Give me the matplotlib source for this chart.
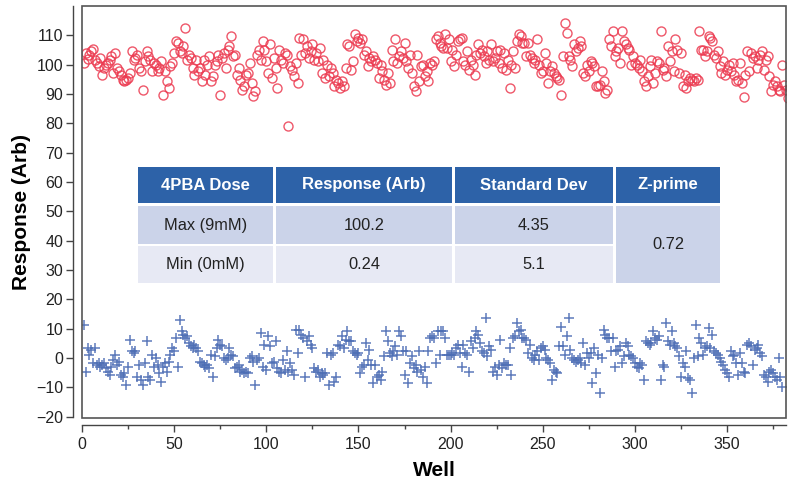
import numpy as np
import matplotlib
matplotlib.use("Agg")
import matplotlib.pyplot as plt
from matplotlib.patches import Rectangle

plt.rcParams['font.family'] = ['Liberation Sans', 'DejaVu Sans']

# -----------------------------
# Data (Max = 9mM 4PBA, Min = 0mM)
# -----------------------------
max_response = [
    100.6, 104.0, 102.0, 103.2, 104.6, 105.4, 101.7, 100.6, 99.5, 102.3, 96.6, 99.0,
    100.0, 100.6, 101.7, 102.9, 97.2, 104.0, 98.9, 97.8, 96.6, 94.9,
    94.3, 94.9, 95.5, 97.0, 104.6, 101.7, 102.3, 103.4, 98.9, 97.8, 91.5,
    101.2, 104.6, 102.9, 101.7, 97.8, 100.6, 100.0, 97.8, 98.9, 101.2,
    89.8, 97.8, 94.3, 92.1, 99.5, 100.6, 104.0, 108.0, 107.4, 104.6, 104.0,
    106.3, 112.5, 101.7, 103.4, 102.3, 98.9, 96.6, 101.7, 97.8, 98.9,
    94.3, 101.7, 96.6, 100.0, 102.9, 94.3, 96.0, 100.0, 101.2, 103.4,
    89.8, 102.3, 104.0, 98.9, 105.1, 106.3, 109.7, 102.9, 103.4, 96.6,
    98.9, 94.9, 91.5, 92.6, 96.6, 97.2, 100.6, 93.8, 89.2, 90.9,
    103.4, 105.1,
    101.7, 108.0, 105.1, 101.2, 97.2, 106.9, 95.5, 102.3, 98.9, 92.1,
    105.1, 101.7, 100.6, 104.0, 103.4, 79.2, 99.5, 98.3, 96.0, 100.6,
    93.8, 109.1, 103.4, 108.6, 104.0, 106.3, 102.3, 104.6, 106.9, 101.7,
    104.0, 101.2, 105.7, 97.2, 101.7, 95.5, 100.0, 96.0, 98.9, 97.2,
    92.6, 94.9, 93.8, 92.1, 94.3, 92.6, 98.9, 106.9, 106.3, 98.3,
    101.2, 110.3, 108.0, 109.1, 107.4, 108.6, 103.4, 104.6, 99.5, 102.3,
    101.2, 102.9, 101.7, 100.6, 95.5, 100.0, 97.8, 94.9, 93.2, 97.2,
    93.8, 105.1, 101.2, 108.6, 100.6, 102.9, 104.6, 102.3, 107.4, 101.2,
    98.9, 103.4, 97.2, 92.6, 90.9, 103.4, 94.3, 99.5, 100.0, 96.0,
    97.8, 94.3, 100.6, 100.0, 101.2, 108.6,
    109.7, 107.4, 106.3, 105.7, 110.3, 105.7, 108.6, 101.2, 105.1,
    99.5, 103.4, 108.0, 108.6, 109.1, 101.2, 100.0, 104.6, 98.3, 101.7,
    100.0, 96.6, 103.4, 106.9, 104.0, 105.1, 102.9, 100.6, 104.6, 101.7,
    106.9, 101.2, 102.3, 104.6, 100.6, 105.1, 98.9, 104.0, 98.3, 101.7,
    92.1, 100.0, 104.6, 98.9, 108.0, 110.3, 109.7, 107.4, 107.4, 102.9,
    107.4, 103.4, 102.3, 100.6, 101.7, 108.6, 100.0, 97.2, 97.8, 104.0,
    100.6, 93.8, 97.8, 99.5, 97.2, 96.0, 95.5, 94.9, 89.8, 102.9,
    114.2, 110.8, 102.9, 101.7, 99.5, 106.9, 104.6, 105.7, 108.0, 106.3,
    97.2, 96.0, 100.0, 97.8, 101.2, 100.6, 99.5, 92.6, 92.6, 93.2,
    97.8, 94.3, 90.4, 91.5, 108.6, 106.3, 111.4,
    102.9, 104.6, 105.7, 100.6, 111.4, 108.0, 106.9, 105.7, 105.1, 100.0,
    102.9, 100.6, 100.0, 98.9, 101.7, 97.8, 94.3, 92.6, 96.0, 99.5,
    101.7, 93.8, 97.2, 101.2, 100.6, 111.4, 98.3, 98.9, 96.0, 106.3,
    101.2, 104.6, 97.8, 108.6, 105.1, 97.2, 104.0, 92.6, 96.6, 92.1,
    94.3, 95.5, 94.9, 94.3, 95.5, 94.9, 111.4, 105.1, 105.1, 102.9,
    104.6, 109.7, 109.1, 108.0, 103.4, 102.3, 104.6, 99.5, 97.2, 101.2,
    96.6, 98.3, 100.0, 97.8, 100.6, 96.6, 94.3, 94.9, 100.6, 93.8,
    89.0, 96.6, 104.6, 97.8, 104.0, 102.3, 102.9, 98.9, 101.7, 103.4,
    104.6, 98.3, 101.7, 102.9, 96.0, 90.9, 93.2, 94.3, 92.6, 91.5,
    90.9, 100.0, 93.2, 91.5, 88.7, 92.1,
]

min_response = [
    11.3, -4.7, 3.3, 1.0, 2.7, -1.8, 3.3, -2.4, -1.8, -3.0,
    -2.4, -1.8, -3.5, -4.7, -5.8, -3.0, -0.7, 1.0, -2.4, -1.3,
    -5.8, -6.4, -5.2, -9.2, -3.0, 6.1, 2.2, 1.6, 2.2, -6.4,
    -2.4, -7.5, -9.2, -1.8, 5.6, -6.4, -7.5, 1.0, -3.0, -0.1,
    -2.4, -5.2, -8.1, -3.0, -1.8, -4.7, -1.3, 1.0, 3.3, 2.2,
    6.7, -3.0, 13.0, 9.0, 7.9, 6.7, 7.3, 5.0, 3.9, 3.3,
    4.4, 3.3, 2.2, -1.3, -1.8, -2.4, -3.0, -2.4, -3.5, 1.0,
    -6.4, 0.5, 3.3, 6.1, 4.4, 3.9, -0.1, -0.7, -0.1, 3.3,
    1.0, 0.5, -3.5, -3.0, -2.4, -4.7, -4.1, -5.2, -4.7, -5.2,
    -0.1, 0.5, -1.3, -9.2, -0.7, -0.1,
    8.4, -3.0, 4.4, -4.1, 7.3, 3.9, -1.8, -1.3, 5.6, -3.5,
    -4.7, -5.2, -0.7, -4.1, 2.2, -4.7, -1.8, -4.1, -5.8, 9.6,
    1.6, 9.6, 7.9, 6.7, -6.4, 5.6, 7.3, 4.4, 3.3, -3.5,
    -4.7, -4.1, -6.4, -5.2, -5.8, -5.2, 1.6, -9.2, 1.0, 1.6,
    -8.1, -6.4, 4.4, 3.9, 7.3, 3.3, 6.1, 9.0, 5.6, 5.6,
    2.2, 1.6, 1.0, 1.6, -5.2, -3.0, -2.4, 5.0, -0.7, 2.7,
    -2.4, -8.6, -2.4, -6.4, -5.8, -7.5, -4.7, 0.5, 9.0, 5.6,
    1.6, 0.5, 2.2, 3.9, 1.0, 9.0, 7.3, 2.2, -5.8, 2.2,
    -8.6, -1.8, 0.5, -3.5, -2.4, -4.7, 2.2, -4.1, -6.4, -3.0,
    -8.6, 2.2, 6.7,
    7.3, 6.7, -1.8, 9.0, 1.0, 9.0,
    9.0, 6.7, 1.0, 1.0, 1.0, 1.6, 1.0, 3.3, 4.4, 1.6,
    -3.0, 4.4, 1.6, 1.0, -4.7, 5.6, 3.3, 6.7, 9.0, 7.9,
    5.0, 2.2, 1.6, 13.5, 0.5, 3.9, 2.7, -4.7, -3.0, -5.8,
    -2.4, 6.1, -3.5, -1.8, -2.4, -2.4, 3.3, -5.8, 6.7, 7.3,
    11.8, 9.0, 9.6, 6.7, 6.7, 6.1, 1.6, 4.4, -0.1, -0.7,
    1.0, 2.2, -0.7, 3.3, 3.9, 2.7, -0.1, -0.7, -1.8, -7.5,
    -4.1, -4.7, -5.2, 3.9, 10.7, 3.9, 1.0, 7.3, 13.5, 2.7,
    -0.1, -0.7, -1.3, -0.7, -0.1, -1.8, 5.0, -2.4, 1.6, -0.1,
    1.6, -8.6, 3.3, -5.2, 1.0, -12.1, -0.1, 9.6, 7.9,
    6.7, 6.7, 2.2, 6.7, -3.0, 2.2, 2.7, 3.9, -1.8, 0.5, 5.0,
    3.9, 1.0, 0.5, -0.1, -1.8, -3.0, -3.5, -1.8, -2.4, -7.5,
    5.6, 5.0, 4.4, 5.0, 9.0, 6.7, 6.1, 7.3, -7.5, -2.4,
    -3.0, 11.8, 5.6, 4.4, 9.0, 5.0, 3.9, 3.3, 0.5, -6.4,
    -1.8, -3.0, 2.2, -6.9, -7.5, -12.1, -0.1, 11.3, 0.5, 6.7,
    5.0, 1.0, 3.3, 3.9, 10.1, 3.3, 7.9, 2.2, 1.6, 1.0,
    -0.1, -1.3, -2.4, -4.1, -5.2, -6.4, 2.2, 0.5, 1.0, -1.8,
    -5.8, 1.6, -1.8, -4.7, -5.2, 4.4, 5.0, 3.9, -2.4, 2.7,
    3.3, 4.4, 1.6, 0.5, -5.8, -6.4, -8.1, -4.7, -4.1, -5.2,
    -6.4, -7.5, -0.1, -6.4, -9.8,
]

wells_max = np.arange(1, len(max_response) + 1)
wells_min = np.arange(1, len(min_response) + 1)

table_header = ["4PBA Dose", "Response (Arb)", "Standard Dev", "Z-prime"]
table_rows = [["Max (9mM)", "100.2", "4.35"],
              ["Min (0mM)", "0.24", "5.1"]]
z_prime = "0.72"

# -----------------------------
# Figure
# -----------------------------
W, H = 793, 486
fig = plt.figure(figsize=(W / 100, H / 100), dpi=100)
ax = fig.add_axes([82 / W, 1 - 418 / H, (786 - 82) / W, (418 - 6) / H])

ax.plot(wells_max, max_response, linestyle='none', marker='o', markersize=6.5,
        markerfacecolor='none', markeredgecolor='#EC3A50', markeredgewidth=1.0, alpha=0.85)
ax.plot(wells_min, min_response, linestyle='none', marker='+', markersize=7.5,
        color='#4C6DB4', markeredgewidth=1.1, alpha=0.9)

ax.set_xlim(0, 382)
ax.set_ylim(-20.5, 120)

# offset axes (Igor style) plus a box frame
axis_color = '#444444'
for side in ['top', 'right']:
    ax.spines[side].set_visible(False)
ax.spines['left'].set_position(('outward', 6.5))
ax.spines['bottom'].set_position(('outward', 5))
ax.spines['left'].set_bounds(-20, 120)
for side in ['left', 'bottom']:
    ax.spines[side].set_color(axis_color)
    ax.spines[side].set_linewidth(1.0)
ax.add_patch(Rectangle((0, 0), 1, 1, transform=ax.transAxes, fill=False,
                       edgecolor='#555555', linewidth=1.2, clip_on=False, zorder=5))

ax.set_yticks(np.arange(-20, 111, 10))
ax.set_xticks(np.arange(0, 351, 50))
ax.set_xticks(np.arange(25, 382, 50), minor=True)
ax.tick_params(axis='both', which='major', direction='out', length=5, width=1,
               color=axis_color, labelsize=11.5, labelcolor='#222222')
ax.tick_params(axis='x', which='minor', direction='out', length=3, width=1, color=axis_color)
ax.tick_params(axis='y', pad=2)
ax.tick_params(axis='x', pad=4)

ax.set_xlabel("Well", fontsize=15, fontweight='bold', labelpad=6)
ax.set_ylabel("Response (Arb)", fontsize=15, fontweight='bold', labelpad=4)

# -----------------------------
# Summary table
# -----------------------------
def cell(x0, y0, x1, y1, color):
    fig.add_artist(Rectangle((x0 / W, 1 - y1 / H), (x1 - x0) / W, (y1 - y0) / H,
                             transform=fig.transFigure, facecolor=color,
                             edgecolor='none', zorder=10))

def label(x, y, s, **kw):
    fig.text(x / W, 1 - y / H, s, ha='center', va='center', zorder=11, **kw)

cols = [(138, 273), (276, 452), (455, 613), (616, 720)]
header_y = (167, 203)
row_y = [(206, 244), (246, 283)]
header_color = '#2D62A8'
row_colors = ['#CBD3E9', '#E7E9F4']

for (x0, x1), txt in zip(cols, table_header):
    cell(x0, header_y[0], x1, header_y[1], header_color)
    label((x0 + x1) / 2, sum(header_y) / 2, txt, color='white',
          fontsize=12, fontweight='bold')

for (y0, y1), row, rc in zip(row_y, table_rows, row_colors):
    for (x0, x1), txt in zip(cols[:3], row):
        cell(x0, y0, x1, y1, rc)
        label((x0 + x1) / 2, (y0 + y1) / 2, txt, color='#222222', fontsize=11.8)

cell(cols[3][0], row_y[0][0], cols[3][1], row_y[1][1], row_colors[0])
label(sum(cols[3]) / 2, (row_y[0][0] + row_y[1][1]) / 2, z_prime,
      color='#222222', fontsize=11.8)

plt.savefig("out.png", dpi=100)
